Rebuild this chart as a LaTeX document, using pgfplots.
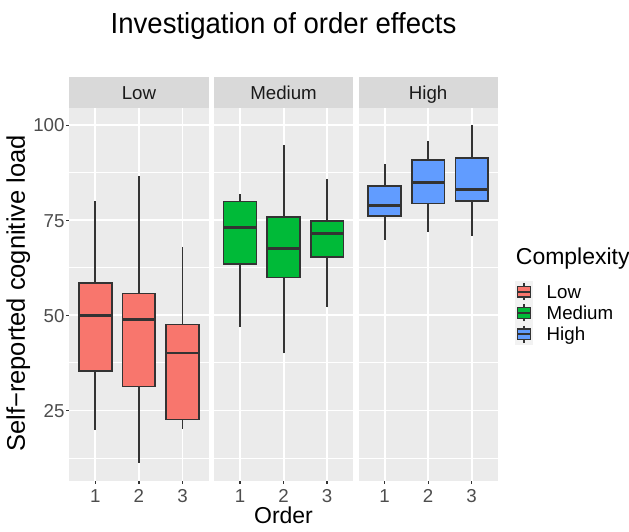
\documentclass[border=0pt]{standalone}
\usepackage{pgfplots}
\pgfplotsset{compat=1.18}
\usepgfplotslibrary{statistics}
\usepackage{fontspec}
\setmainfont{Liberation Sans}
\newfontfamily\titlefont[FakeStretch=0.95]{Liberation Sans}
\definecolor{lowcol}{HTML}{F8766D}
\definecolor{medcol}{HTML}{00BA38}
\definecolor{highcol}{HTML}{619CFF}
\definecolor{panelbg}{HTML}{EBEBEB}
\definecolor{stripbg}{HTML}{D9D9D9}
\definecolor{edge}{HTML}{333333}
\definecolor{ticklab}{HTML}{4D4D4D}
\definecolor{striptext}{HTML}{1A1A1A}
\definecolor{keybg}{HTML}{F2F2F2}
\pgfplotsset{
 panel/.style={
  scale only axis, width=139.3pt, height=372.4pt,
  xmin=0.4, xmax=3.6, ymin=6.55, ymax=104.45,
  axis background/.style={fill=panelbg},
  axis line style={draw=none},
  xtick={1,2,3}, xticklabels={1,2,3},
  ytick={25,50,75,100},
  minor ytick={12.5,37.5,62.5,87.5},
  xmajorgrids, ymajorgrids, yminorgrids,
  major grid style={white, line width=1.9pt},
  minor grid style={white, line width=0.95pt},
  tick align=outside, major tick length=3.3pt, minor tick length=0pt,
  major tick style={edge, line width=1.3pt},
  xtick pos=bottom, ytick pos=left,
  tick label style={font=\fontsize{18.7}{18.7}\selectfont, text=ticklab},
  xticklabel style={inner sep=0pt, anchor=north, text height=13.4pt, text depth=0pt, yshift=-4.6pt},
  yticklabel style={inner sep=0pt, anchor=east, text height=13.4pt, text depth=0pt, xshift=-1.3pt},
  every axis title/.style={at={(0.5,1)}, anchor=south, fill=stripbg, minimum width=139.3pt, minimum height=31pt, inner sep=0pt, text height=13.4pt, text depth=0pt, font=\fontsize{18.7}{18.7}\selectfont, text=striptext},
  boxplot/draw direction=y,
  boxplot/every median/.style={line width=2.8pt},
  boxplot/every whisker/.style={draw=edge, line width=1.9pt},
 },
 bx/.style={fill=#1, draw=edge, line width=1.6pt},
}
\begin{document}
\begin{tikzpicture}
\useasboundingbox (0pt,0pt) rectangle (629pt,532pt);
% Low panel
\begin{axis}[panel, at={(69.3pt,51.3pt)}, anchor=south west, title={Low},
  yticklabels={25,50,75,100}]
\addplot[bx=lowcol, boxplot prepared={draw position=1, lower whisker=20, lower quartile=35.4, median=50, upper quartile=58.6, upper whisker=80, box extend=0.75, whisker extend=0}] coordinates {};
\addplot[bx=lowcol, boxplot prepared={draw position=2, lower whisker=11.3, lower quartile=31.3, median=49, upper quartile=55.8, upper whisker=86.7, box extend=0.75, whisker extend=0}] coordinates {};
\addplot[bx=lowcol, boxplot prepared={draw position=3, lower whisker=20.2, lower quartile=22.6, median=40.1, upper quartile=47.6, upper whisker=68, box extend=0.75, whisker extend=0}] coordinates {};
\end{axis}
% Medium panel
\begin{axis}[panel, at={(213.9pt,51.3pt)}, anchor=south west, title={Medium},
  yticklabels={}, y tick style={draw=none}]
\addplot[bx=medcol, boxplot prepared={draw position=1, lower whisker=47, lower quartile=63.5, median=73.1, upper quartile=79.9, upper whisker=81.9, box extend=0.75, whisker extend=0}] coordinates {};
\addplot[bx=medcol, boxplot prepared={draw position=2, lower whisker=40, lower quartile=60, median=67.5, upper quartile=75.8, upper whisker=94.8, box extend=0.75, whisker extend=0}] coordinates {};
\addplot[bx=medcol, boxplot prepared={draw position=3, lower whisker=52.1, lower quartile=65.3, median=71.5, upper quartile=74.9, upper whisker=85.9, box extend=0.75, whisker extend=0}] coordinates {};
\end{axis}
% High panel
\begin{axis}[panel, at={(358.5pt,51.3pt)}, anchor=south west, title={High},
  yticklabels={}, y tick style={draw=none},
  legend style={at={(axis description cs:1.1235,0.5363)}, anchor=north west, draw=none, fill=none, inner sep=0pt, outer sep=0pt, row sep=0pt, column sep=0pt, font=\fontsize{18.7}{18.7}\selectfont, nodes={inner sep=0pt, outer sep=0pt, text height=13.4pt, text depth=0pt}},
  legend cell align=left,
  legend image code/.code={
    \fill[keybg, draw=none] (0pt,-10.65pt) rectangle (18pt,10.65pt);
    \path[draw=none, fill=none] (0pt,0pt) rectangle (31.7pt,0.1pt);
    \draw[edge, line width=1.3pt] (9pt,-8.5pt) -- (9pt,8.5pt);
    \draw[#1, draw=edge, line width=1.3pt] (2.25pt,-5.3pt) rectangle (15.75pt,5.3pt);
    \draw[edge, line width=2.2pt] (2.25pt,0pt) -- (15.75pt,0pt);
  }]
\addlegendimage{fill=lowcol}
\addlegendentry{Low}
\addlegendimage{fill=medcol}
\addlegendentry{Medium}
\addlegendimage{fill=highcol}
\addlegendentry{High}
\addplot[forget plot, bx=highcol, boxplot prepared={draw position=1, lower whisker=69.9, lower quartile=76.2, median=79, upper quartile=84.1, upper whisker=89.9, box extend=0.75, whisker extend=0}] coordinates {};
\addplot[forget plot, bx=highcol, boxplot prepared={draw position=2, lower whisker=71.8, lower quartile=79.4, median=84.9, upper quartile=90.9, upper whisker=95.8, box extend=0.75, whisker extend=0}] coordinates {};
\addplot[forget plot, bx=highcol, boxplot prepared={draw position=3, lower whisker=70.9, lower quartile=80.1, median=83, upper quartile=91.4, upper whisker=100, box extend=0.75, whisker extend=0}] coordinates {};
\end{axis}
% titles
\node[anchor=base, font=\titlefont\fontsize{29}{29}\selectfont, inner sep=0pt] at (283.5pt,498.7pt) {Investigation of order effects};
\node[anchor=base, font=\fontsize{23}{23}\selectfont, inner sep=0pt] at (283.5pt,8.3pt) {Order};
\node[anchor=base, rotate=90, font=\fontsize{25.5}{25.5}\selectfont, inner sep=0pt] at (25pt,238.6pt) {Self\char"2212 reported cognitive load};
\node[anchor=west, font=\fontsize{23}{23}\selectfont, inner sep=0pt, text height=16.5pt, text depth=0pt] at (515.7pt,276pt) {Complexity};
\end{tikzpicture}
\end{document}
